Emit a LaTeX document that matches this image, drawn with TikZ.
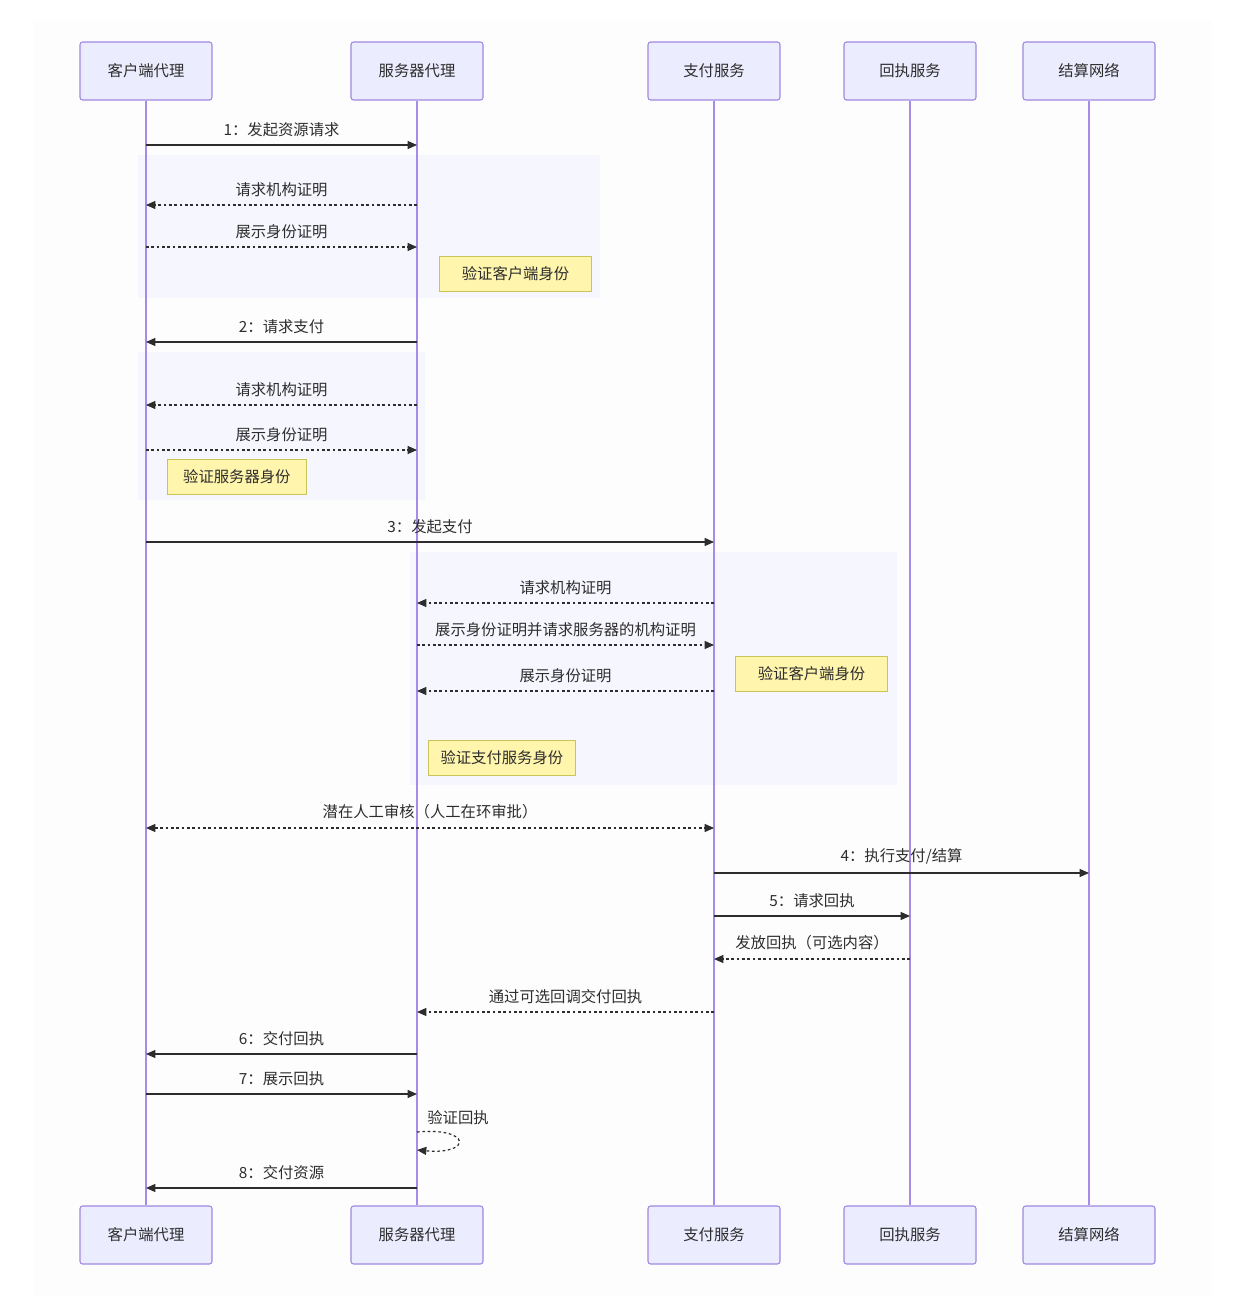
\documentclass[tikz,border=0pt]{standalone}
\usepackage{fontspec}
\setmainfont{Noto Sans CJK SC}
\usetikzlibrary{arrows.meta}
\definecolor{actorfill}{RGB}{236,236,255}
\definecolor{actorline}{RGB}{160,135,225}
\definecolor{lifeline}{RGB}{165,140,235}
\definecolor{notefill}{RGB}{255,245,173}
\definecolor{noteline}{RGB}{200,196,90}
\definecolor{groupfill}{RGB}{246,246,254}
\definecolor{pagefill}{RGB}{253,253,253}
\definecolor{msgtext}{RGB}{45,45,45}
\newcommand{\widthactor}{99pt}
\newcommand{\heightactor}{43.5pt}
\newcommand{\heightnote}{26pt}
% one message between two lifelines at height #4
\newcommand{\msgline}[5]{\draw[#1] (#2 |- 0,#4) -- node[lbl] {#5} (#3 |- 0,#4);}
\tikzset{
    actor/.style={draw=actorline, fill=actorfill, rounded corners=2pt, line width=0.8pt,
        minimum width=\widthactor, minimum height=\heightactor, text=msgtext},
    note/.style={draw=noteline, fill=notefill, line width=0.8pt, anchor=north west,
        minimum height=\heightnote, text=msgtext},
    life/.style={draw=lifeline, line width=1.2pt},
    msg/.style={draw=msgtext, line width=0.9pt, -{Triangle[length=7pt,width=6pt]}},
    reply/.style={msg, dash pattern=on 2pt off 2pt},
    both/.style={reply, {Triangle[length=7pt,width=6pt]}-{Triangle[length=7pt,width=6pt]}},
    lbl/.style={above=4pt, inner sep=2pt, text=msgtext},
    groupbox/.style={fill=groupfill}
}
\begin{document}
\begin{tikzpicture}[x=0.75pt, y=-0.75pt, font=\fontsize{11.5}{14}\selectfont]
    \useasboundingbox (0,0) rectangle (1234,1316);
    \fill[pagefill] (33,20) rectangle (1212,1296);

    % shaded blocks
    \fill[groupbox] (138,155) rectangle (600,298);
    \fill[groupbox] (138,352) rectangle (425,500);
    \fill[groupbox] (410,552) rectangle (897,785);

    % participants
    \node[actor] (clienttop) at (146,71) {客户端代理};
    \node[actor] (servertop) at (417,71) {服务器代理};
    \node[actor] (paytop) at (714,71) {支付服务};
    \node[actor] (receipttop) at (910,71) {回执服务};
    \node[actor] (settletop) at (1089,71) {结算网络};
    \node[actor] (clientbot) at (146,1235) {客户端代理};
    \node[actor] (serverbot) at (417,1235) {服务器代理};
    \node[actor] (paybot) at (714,1235) {支付服务};
    \node[actor] (receiptbot) at (910,1235) {回执服务};
    \node[actor] (settlebot) at (1089,1235) {结算网络};

    \foreach \who in {client, server, pay, receipt, settle}
        \draw[life] (\who top.south) -- (\who bot.north);

    % notes
    \node[note, minimum width=114pt] (checkclient) at (439,256) {验证客户端身份};
    \node[note, minimum width=104pt] (checkserver) at (167,459) {验证服务器身份};
    \node[note, minimum width=114pt] (checkclienttwo) at (735,656) {验证客户端身份};
    \node[note, minimum width=110pt] (checkpay) at (428,740) {验证支付服务身份};

    % messages
    \msgline{msg}{clienttop}{servertop}{145}{1：发起资源请求}
    \msgline{reply}{servertop}{clienttop}{205}{请求机构证明}
    \msgline{reply}{clienttop}{servertop}{247}{展示身份证明}
    \msgline{msg}{servertop}{clienttop}{342}{2：请求支付}
    \msgline{reply}{servertop}{clienttop}{405}{请求机构证明}
    \msgline{reply}{clienttop}{servertop}{450}{展示身份证明}
    \msgline{msg}{clienttop}{paytop}{542}{3：发起支付}
    \msgline{reply}{paytop}{servertop}{603}{请求机构证明}
    \msgline{reply}{servertop}{paytop}{645}{展示身份证明并请求服务器的机构证明}
    \msgline{reply}{paytop}{servertop}{691}{展示身份证明}
    \msgline{both}{clienttop}{paytop}{828}{潜在人工审核（人工在环审批）}
    \msgline{msg}{paytop}{settletop}{873}{4：执行支付/结算}
    \msgline{msg}{paytop}{receipttop}{916}{5：请求回执}
    \msgline{reply}{receipttop}{paytop}{959}{发放回执（可选内容）}
    \msgline{reply}{paytop}{servertop}{1012}{通过可选回调交付回执}
    \msgline{msg}{servertop}{clienttop}{1054}{6：交付回执}
    \msgline{msg}{clienttop}{servertop}{1094}{7：展示回执}
    \draw[reply] (servertop |- 0,1132) .. controls (472,1127) and (472,1155) .. (servertop |- 0,1150);
    \node[text=msgtext] (checkreceipt) at (458,1118) {验证回执};
    \msgline{msg}{servertop}{clienttop}{1188}{8：交付资源}
\end{tikzpicture}
\end{document}
